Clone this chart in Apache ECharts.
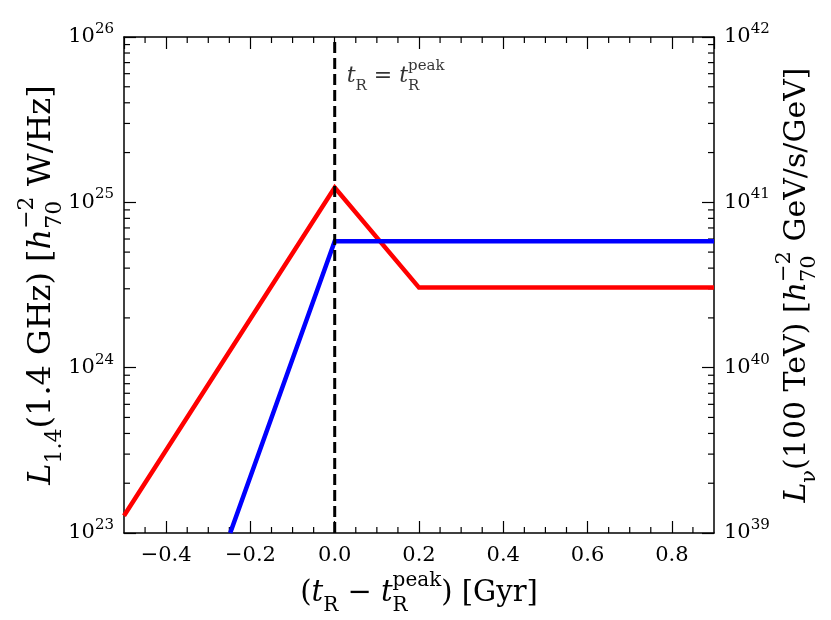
<!DOCTYPE html>
<html><head><meta charset="utf-8">
<script src="https://cdn.jsdelivr.net/npm/echarts@6/dist/echarts.min.js"></script>
<style>html,body{margin:0;padding:0;background:#fff}#c{width:831px;height:620px}</style>
</head><body><div id="c"></div>
<script>
// ---- data ----
const xRange = [-0.5, 0.9];
const yLeftRange = [1e23, 1e26];
const yRightRange = [1e39, 1e42];
const radioX = [-0.5, 0.0, 0.2, 0.9];
const radioL = [1.27e23, 1.23e25, 3.05e24, 3.05e24];
const nuX = [-0.248, 0.0, 0.9];
const nuL = [1e39, 5.82e40, 5.82e40];
const peakLineX = [0.0, 0.0];
const peakLineY = [1e23, 1e26];
const annotPoint = [0.0, 5.8e25];
const xMinorTicks = [-0.45, -0.35, -0.3, -0.25, -0.15, -0.1, -0.05, 0.05, 0.1, 0.15, 0.25, 0.3, 0.35, 0.45, 0.5, 0.55, 0.65, 0.7, 0.75, 0.85];
const yMinorMantissas = [2, 3, 4, 5, 6, 7, 8, 9];
const yMinorDecades = [23, 24, 25];

const FONT = 'DejaVu Serif';
const yMinorTicks = [];
yMinorDecades.forEach(d => yMinorMantissas.forEach(m => yMinorTicks.push(m * Math.pow(10, d))));

function mathRich(fs) {
  const s = Math.round(fs * 0.7);
  return {
    n: {fontFamily: FONT, fontSize: fs, lineHeight: fs * 1.55, align: 'left', color: '#000'},
    i: {fontFamily: FONT, fontSize: fs, fontStyle: 'italic', lineHeight: fs * 1.55, align: 'left', color: '#000'},
    sub: {fontFamily: FONT, fontSize: s, lineHeight: s, verticalAlign: 'bottom', align: 'left', color: '#000'},
    subz: {fontFamily: FONT, fontSize: s, lineHeight: s, verticalAlign: 'bottom', width: 0, align: 'left', color: '#000'},
    sup: {fontFamily: FONT, fontSize: s, lineHeight: s, verticalAlign: 'top', align: 'left', color: '#000'}
  };
}
const tickRich = {
  b: {fontFamily: FONT, fontSize: 21, lineHeight: 31, color: '#000'},
  s: {fontFamily: FONT, fontSize: 15, lineHeight: 15, verticalAlign: 'top', color: '#000'}
};
const powLabel = v => '{b|10}{s|' + Math.round(Math.log10(v)) + '}';
const axisLine = {show: true, onZero: false, lineStyle: {color: '#000', width: 1.5}};
const majorTick = {show: true, inside: true, length: 12, lineStyle: {color: '#000', width: 1.2}};
const tickStyle = {stroke: '#000', lineWidth: 1.2};
const MINOR = 6;

const chart = echarts.init(document.getElementById('c'));
chart.setOption({
  animation: false,
  backgroundColor: '#fff',
  grid: {left: 124, top: 37, right: 117, bottom: 87, containLabel: false, outerBoundsMode: 'none'},
  xAxis: [
    {
      type: 'value', min: xRange[0], max: xRange[1], splitNumber: 7, position: 'bottom',
      axisLine, axisTick: majorTick, splitLine: {show: false},
      axisLabel: {
        show: true, margin: 12, showMinLabel: false, showMaxLabel: false,
        fontFamily: FONT, fontSize: 21, color: '#000',
        formatter: v => v.toFixed(1).replace('-', '\u2212')
      },
      name: '{n|(}{i|t}{sub|R}{n| \u2212 }{i|t}{subz|R}{sup|peak}{n|) [Gyr]}',
      nameLocation: 'middle', nameGap: 38, nameMoveOverlap: false,
      nameTextStyle: {rich: mathRich(29)}
    },
    {
      type: 'value', min: xRange[0], max: xRange[1], splitNumber: 7, position: 'top',
      axisLine, axisTick: majorTick, splitLine: {show: false}, axisLabel: {show: false}
    }
  ],
  yAxis: [
    {
      type: 'log', logBase: 10, min: yLeftRange[0], max: yLeftRange[1], position: 'left',
      axisLine, axisTick: majorTick, splitLine: {show: false},
      axisLabel: {margin: 10, formatter: powLabel, rich: tickRich},
      name: '{i|L}{sub|1.4}{n|(1.4 GHz) [}{i|h}{subz|70}{sup|\u22122}{n| W/Hz]}',
      nameLocation: 'middle', nameRotate: 90, nameGap: 58, nameMoveOverlap: false,
      nameTextStyle: {rich: mathRich(32)}
    },
    {
      type: 'log', logBase: 10, min: yRightRange[0], max: yRightRange[1], position: 'right',
      axisLine, axisTick: majorTick, splitLine: {show: false},
      axisLabel: {margin: 10, formatter: powLabel, rich: tickRich},
      name: '{i|L}{sub|\u03bd}{n|(100 TeV) [}{i|h}{subz|70}{sup|\u22122}{n| GeV/s/GeV]}',
      nameLocation: 'middle', nameRotate: 90, nameGap: 60, nameMoveOverlap: false,
      nameTextStyle: {rich: mathRich(30)}
    }
  ],
  series: [
    {
      type: 'custom', xAxisIndex: 0, yAxisIndex: 0, silent: true, clip: false,
      data: yMinorTicks.map(v => [xRange[0], v]),
      renderItem: (params, api) => {
        const cs = params.coordSys;
        const y = api.coord([xRange[0], api.value(1)])[1];
        return {type: 'group', children: [
          {type: 'line', shape: {x1: cs.x, y1: y, x2: cs.x + MINOR, y2: y}, style: tickStyle},
          {type: 'line', shape: {x1: cs.x + cs.width, y1: y, x2: cs.x + cs.width - MINOR, y2: y}, style: tickStyle}
        ]};
      }
    },
    {
      type: 'custom', xAxisIndex: 0, yAxisIndex: 0, silent: true, clip: false,
      data: xMinorTicks.map(v => [v, yLeftRange[0]]),
      renderItem: (params, api) => {
        const cs = params.coordSys;
        const x = api.coord([api.value(0), yLeftRange[0]])[0];
        return {type: 'group', children: [
          {type: 'line', shape: {x1: x, y1: cs.y + cs.height, x2: x, y2: cs.y + cs.height - MINOR}, style: tickStyle},
          {type: 'line', shape: {x1: x, y1: cs.y, x2: x, y2: cs.y + MINOR}, style: tickStyle}
        ]};
      }
    },
    {
      type: 'line', xAxisIndex: 0, yAxisIndex: 0, symbol: 'none', z: 3,
      data: radioX.map((x, i) => [x, radioL[i]]),
      lineStyle: {color: '#ff0000', width: 4.5, join: 'miter'}
    },
    {
      type: 'line', xAxisIndex: 0, yAxisIndex: 1, symbol: 'none', z: 4,
      data: nuX.map((x, i) => [x, nuL[i]]),
      lineStyle: {color: '#0000ff', width: 4.5, join: 'miter'}
    },
    {
      type: 'line', xAxisIndex: 0, yAxisIndex: 0, symbol: 'none', z: 5,
      data: peakLineX.map((x, i) => [x, peakLineY[i]]),
      lineStyle: {color: '#000', width: 3, type: [11, 5]}
    },
    {
      type: 'scatter', xAxisIndex: 0, yAxisIndex: 0, symbolSize: 0, z: 6, silent: true,
      data: [annotPoint],
      label: {
        show: true, position: 'right', distance: 12,
        formatter: '{i|t}{sub|R}{n| = }{i|t}{subz|R}{sup|peak}',
        rich: mathRich(22)
      }
    }
  ]
});
</script>
</body></html>
